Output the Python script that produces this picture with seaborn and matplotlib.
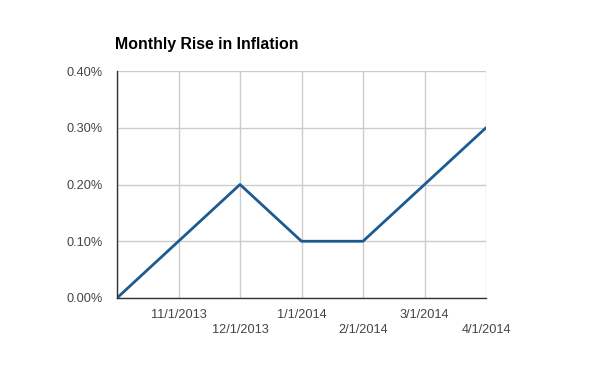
import pandas as pd
import matplotlib.pyplot as plt
import matplotlib.ticker as mticker
import seaborn as sns

# Datos
fechas = ['10/1/2013', '11/1/2013', '12/1/2013', '1/1/2014', '2/1/2014', '3/1/2014', '4/1/2014']
inflacion = [0.0, 0.10, 0.20, 0.10, 0.10, 0.20, 0.30]
yticks = [0.0, 0.1, 0.2, 0.3, 0.4]

df = pd.DataFrame({'fecha': fechas, 'inflacion': inflacion, 'pos': range(len(fechas))})

sns.set_style('white')
plt.rcParams['font.family'] = ['Liberation Sans', 'DejaVu Sans']

fig = plt.figure(figsize=(6, 3.71), dpi=100)
ax = fig.add_axes([117 / 600, 73 / 371, 369 / 600, 227 / 371])

sns.lineplot(data=df, x='pos', y='inflacion', color='#1c5b91', linewidth=2, ax=ax)

ax.set_xlim(0, len(fechas) - 1)
ax.set_ylim(0, 0.4)
ax.set_yticks(yticks)
ax.yaxis.set_major_formatter(mticker.FuncFormatter(lambda v, p: f'{v:.2f}%'))
ax.set_xticks(df['pos'])
etiquetas = ['' if i == 0 else ('\n' + f if i % 2 == 0 else f) for i, f in enumerate(fechas)]
ax.set_xticklabels(etiquetas, linespacing=1.3)
ax.grid(True, color='#cccccc', linewidth=1)
ax.set_axisbelow(True)
ax.tick_params(axis='both', length=0, labelsize=9.2, colors='#444444')
ax.tick_params(axis='y', pad=10)
ax.tick_params(axis='x', pad=8)
for s in ['top', 'right']:
    ax.spines[s].set_visible(False)
for s in ['left', 'bottom']:
    ax.spines[s].set_color('#333333')
    ax.spines[s].set_linewidth(1)
ax.set_xlabel('')
ax.set_ylabel('')

fig.text(115 / 600, 1 - 45 / 371, 'Monthly Rise in Inflation', fontsize=11.4, fontweight='bold',
         color='#000000', va='center', ha='left')

fig.savefig('out.png', dpi=100, facecolor='white')
